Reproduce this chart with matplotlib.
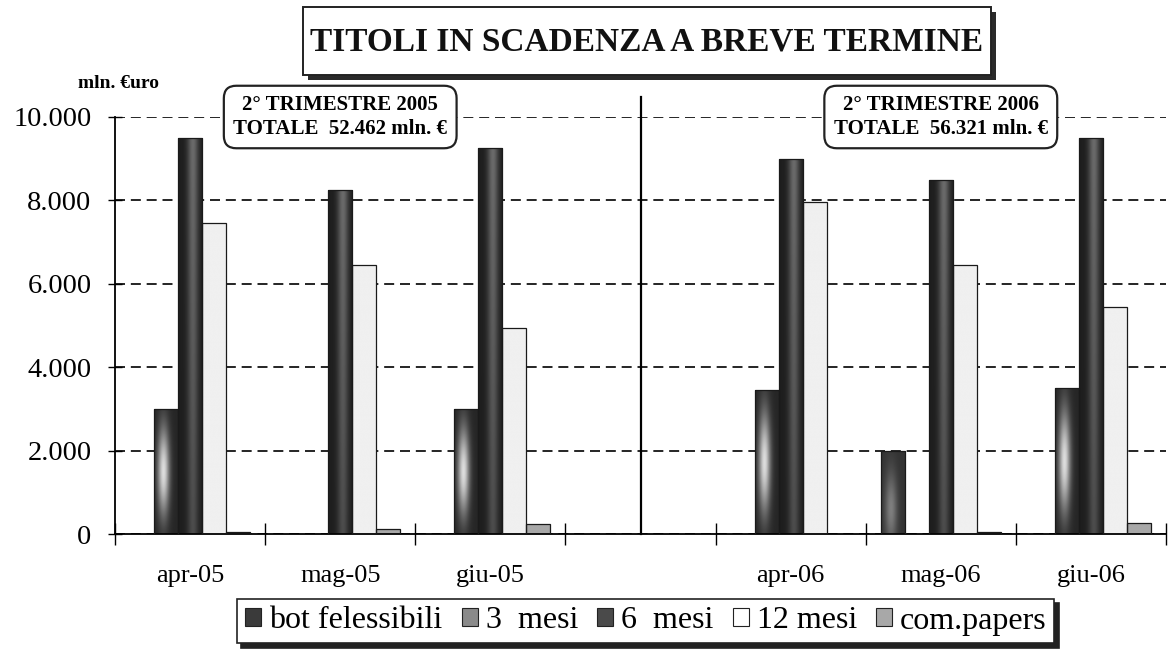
import numpy as np
import matplotlib
matplotlib.use("Agg")
import matplotlib.pyplot as plt
from matplotlib.patches import Rectangle, Patch
from matplotlib.ticker import FuncFormatter

# categories (the empty slot separates the two years)
mesi = ["apr-05", "mag-05", "giu-05", "", "apr-06", "mag-06", "giu-06"]

# mln. euro
bot_felessibili = [0, 0, 0, 0, 0, 2000, 0]
tre_mesi = [3000, 0, 3000, 0, 3450, 0, 3500]
sei_mesi = [9500, 8250, 9250, 0, 9000, 8500, 9500]
dodici_mesi = [7450, 6450, 4950, 0, 7950, 6450, 5450]
com_papers = [40, 120, 240, 0, 0, 50, 260]

serie = [
    ("bot felessibili", bot_felessibili),
    ("3  mesi", tre_mesi),
    ("6  mesi", sei_mesi),
    ("12 mesi", dodici_mesi),
    ("com.papers", com_papers),
]

riquadri = [
    (1, "2° TRIMESTRE 2005\nTOTALE  52.462 mln. €"),
    (5, "2° TRIMESTRE 2006\nTOTALE  56.321 mln. €"),
]

plt.rcParams['font.family'] = ['Liberation Serif', 'DejaVu Serif']


def profilo(kind, n=60, m=40):
    xx = np.linspace(0, 1, n)
    yy = np.linspace(0, 1, m)[:, None]
    if kind == 0:    # bot: dark, soft highlight low-left
        v = 0.2 + 0.3 * np.exp(-((xx - 0.4) / 0.25) ** 2) * np.exp(-((yy - 0.3) / 0.45) ** 2)
    elif kind == 1:  # 3 mesi: bright blob centre-left
        v = 0.15 + 0.72 * np.exp(-((xx - 0.38) / 0.24) ** 2) * np.exp(-((yy - 0.5) / 0.36) ** 2)
    elif kind == 2:  # 6 mesi: very dark, slight sheen
        v = 0.12 + 0.3 * np.exp(-((xx - 0.6) / 0.22) ** 2) * (0.6 + 0.4 * yy)
    elif kind == 3:  # 12 mesi: almost white
        v = 0.94 + 0 * xx + 0 * yy
    else:            # com.papers: light grey
        v = 0.66 + 0 * xx + 0 * yy
    return v


fig = plt.figure(figsize=(11.7, 6.55), dpi=100)
ax = fig.add_axes([115 / 1170, 1 - 534 / 655, (1166 - 115) / 1170, (534 - 117) / 655])

x = np.arange(len(mesi))
w = 0.16
for j, (nome, valori) in enumerate(serie):
    valori = np.array(valori, dtype=float)
    idx = valori > 0
    bars = ax.bar(x[idx] + (j - 2) * w, valori[idx], width=w, facecolor='none',
                  edgecolor='#1a1a1a', linewidth=0.9, zorder=3)
    for b in bars:
        img = ax.imshow(profilo(j), extent=[b.get_x(), b.get_x() + b.get_width(), 0, b.get_height()],
                        origin='lower', cmap='gray', vmin=0, vmax=1, aspect='auto',
                        interpolation='bicubic', zorder=2.5)
        img.set_clip_path(b)

ax.set_xlim(-0.5, len(mesi) - 0.5)
ax.set_ylim(0, 10000)

# separator between the two years
ax.plot([3, 3], [0, 10480], color='black', lw=1.6, clip_on=False, zorder=4)

ax.set_yticks(np.arange(0, 10001, 2000))
ax.yaxis.set_major_formatter(FuncFormatter(lambda v, p: f"{int(v):,}".replace(",", ".")))
ax.tick_params(axis='y', direction='inout', length=10, width=1, labelsize=20.5, pad=12)
ax.yaxis.grid(True, color='black', linestyle=(0, (6, 3.5)), linewidth=1.2, zorder=0)
ax.set_axisbelow(True)

ax.set_xticks(np.arange(-0.5, len(mesi), 1))
ax.set_xticklabels([])
ax.set_xticks(x, minor=True)
ax.set_xticklabels(mesi, minor=True)
ax.tick_params(axis='x', which='major', direction='inout', length=16, width=1)
ax.tick_params(axis='x', which='minor', length=0, labelsize=19, pad=22)

for s in ['top', 'right']:
    ax.spines[s].set_visible(False)
for s in ['left', 'bottom']:
    ax.spines[s].set_linewidth(1.3)

for cx, testo in riquadri:
    ax.text(cx, 10000, testo, ha='center', va='center', fontsize=15, fontweight='bold',
            linespacing=1.25, zorder=6,
            bbox=dict(boxstyle='round,pad=0.45,rounding_size=0.6', fc='white', ec='#222', lw=1.6))

# title box with shadow
ombra = Rectangle((308 / 1170, 1 - 80 / 655), 688 / 1170, 68 / 655, transform=fig.transFigure,
                  facecolor='#2a2a2a', edgecolor='none', zorder=1)
box = Rectangle((303 / 1170, 1 - 75 / 655), 688 / 1170, 68 / 655, transform=fig.transFigure,
                facecolor='white', edgecolor='#222', lw=1.4, zorder=2)
fig.patches.extend([ombra, box])
fig.text((303 + 991) / 2 / 1170, 1 - 42 / 655, "TITOLI IN SCADENZA A BREVE TERMINE",
         ha='center', va='center', fontsize=24, fontweight='bold', color='#111')

fig.text(118 / 1170, 1 - 83 / 655, "mln. €uro", ha='center', va='center', fontsize=14,
         fontweight='bold')

colori = ['#3a3a3a', '#8a8a8a', '#4a4a4a', 'white', '#a8a8a8']
handles = [Patch(facecolor=c, edgecolor='#222', lw=0.8) for c in colori]
leg = fig.legend(handles, [n for n, _ in serie], loc='center', bbox_to_anchor=(0.552, 1 - 621 / 655),
                 ncol=5, fontsize=23, handlelength=0.5, handleheight=0.5, handletextpad=0.25,
                 columnspacing=0.6, borderpad=0.25, borderaxespad=0, fancybox=False, framealpha=1,
                 shadow={'ox': 3, 'oy': -3, 'color': '#222', 'alpha': 1})
leg.get_frame().set_edgecolor('#222')
leg.get_frame().set_linewidth(1.2)

fig.savefig("out.png", dpi=100)
